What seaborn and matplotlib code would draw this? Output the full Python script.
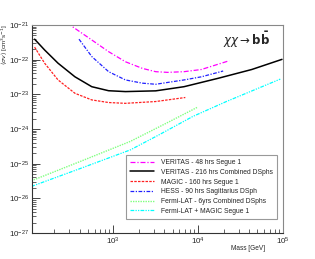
import numpy as np
import pandas as pd
import matplotlib
matplotlib.use("Agg")
import matplotlib.pyplot as plt
import seaborn as sns

# limits, mass in GeV, <sigma v> in cm^3 s^-1
mass_veritas48 = [290, 322, 557, 880, 1390, 2200, 3160, 4360, 6810, 10900, 23200]
sv_veritas48 = [1.2e-21, 9.3e-22, 3.7e-22, 1.7e-22, 8.7e-23, 5.6e-23, 4.5e-23, 4.3e-23, 4.5e-23, 5.2e-23, 9.3e-23]

mass_veritas216 = [118, 155, 223, 353, 557, 880, 1390, 3160, 6810, 17200, 42800, 97300]
sv_veritas216 = [3.9e-22, 1.9e-22, 7.9e-23, 3.2e-23, 1.66e-23, 1.27e-23, 1.2e-23, 1.26e-23, 1.66e-23, 2.9e-23, 5.2e-23, 1.02e-22]

mass_magic = [118, 155, 223, 353, 557, 880, 1390, 3160, 4360, 7060]
sv_magic = [2.3e-22, 7.9e-23, 2.6e-23, 1.07e-23, 6.9e-24, 5.8e-24, 5.5e-24, 6.2e-24, 6.9e-24, 8.1e-24]

mass_hess = [394, 557, 880, 1390, 2200, 3160, 6810, 10900, 19700]
sv_hess = [3.9e-22, 1.23e-22, 4.5e-23, 2.6e-23, 2.1e-23, 1.95e-23, 2.6e-23, 3.2e-23, 4.7e-23]

mass_fermi = [108, 405, 1590, 3940, 9910]
sv_fermi = [3.2e-26, 1.15e-25, 4.4e-25, 1.35e-24, 4.3e-24]

mass_combined = [108, 405, 1590, 3460, 8650, 21500, 92900]
sv_combined = [2.2e-26, 7.2e-26, 2.5e-25, 6.8e-25, 2.3e-24, 6.2e-24, 2.75e-23]

labels = ["VERITAS - 48 hrs Segue 1",
          "VERITAS - 216 hrs Combined DSphs",
          "MAGIC - 160 hrs Segue 1",
          "HESS - 90 hrs Sagittarius DSph",
          "Fermi-LAT - 6yrs Combined DSphs",
          "Fermi-LAT + MAGIC Segue 1"]

y_major = [1e-27, 1e-26, 1e-25, 1e-24, 1e-23, 1e-22, 1e-21]
x_major = [1e3, 1e4, 1e5]

sns.set_style("ticks")
plt.rcParams['font.family'] = ['Liberation Sans', 'DejaVu Sans']

fig = plt.figure(figsize=(3.15, 2.59), dpi=100)
ax = fig.add_axes([0.1016, 0.1004, 0.7968, 0.8031])

series = [
    (mass_veritas48, sv_veritas48, "#ff00ff", (0, (4, 1.5, 1, 1.5)), 0.9),
    (mass_veritas216, sv_veritas216, "black", "-", 1.1),
    (mass_magic, sv_magic, "#ff2020", (0, (2, 1)), 0.9),
    (mass_hess, sv_hess, "#2020ff", (0, (3, 1.2, 1, 1.2)), 0.9),
    (mass_fermi, sv_fermi, "#80ff80", (0, (1, 0.8)), 1.0),
    (mass_combined, sv_combined, "#00ffff", (0, (3, 1, 1, 1, 1, 1)), 0.9),
]

for (m, sv, col, ls, lw), lab in zip(series, labels):
    df = pd.DataFrame({"mass": m, "sv": sv})
    sns.lineplot(data=df, x="mass", y="sv", ax=ax, color=col, linestyle=ls,
                 linewidth=lw, label=lab, sort=False, estimator=None)

ax.set_xscale("log")
ax.set_yscale("log")
ax.set_yticks(y_major)
ax.set_xticks(x_major)
ax.set_xlim(110, 1e5)
ax.set_ylim(1e-27, 1e-21)

ax.tick_params(axis="both", which="both", direction="in", top=False, right=False,
               labelsize=5.8, pad=2)
ax.tick_params(which="major", length=6, width=0.6)
ax.tick_params(which="minor", length=3, width=0.5)
ax.yaxis.set_minor_locator(matplotlib.ticker.LogLocator(base=10, subs=np.arange(2, 10), numticks=20))
ax.xaxis.set_minor_locator(matplotlib.ticker.LogLocator(base=10, subs=np.arange(2, 10), numticks=20))
ax.yaxis.set_minor_formatter(matplotlib.ticker.NullFormatter())
ax.xaxis.set_minor_formatter(matplotlib.ticker.NullFormatter())

for s in ["top", "right"]:
    ax.spines[s].set_color("#888888")
    ax.spines[s].set_linewidth(0.8)
for s in ["left", "bottom"]:
    ax.spines[s].set_color("#333333")
    ax.spines[s].set_linewidth(0.8)

ax.set_xlabel("Mass [GeV]", fontsize=4.7, ha="right")
ax.xaxis.set_label_coords(0.928, -0.06)
ax.set_ylabel("")
fig.text(5 / 315, 1 - 25 / 259, r"$\langle\sigma v\rangle$ [cm$^{3}$s$^{-1}$]",
         rotation=90, ha="center", va="top", fontsize=4.5)

ax.text(0.95, 0.93, r"$\chi\chi \rightarrow \mathbf{b\bar{b}}$", transform=ax.transAxes,
        ha="right", va="center", fontsize=8.5)

leg = ax.legend(loc="upper left", bbox_to_anchor=(0.3745, 0.375), fontsize=4.9,
                frameon=True, fancybox=False, edgecolor="#808080", handlelength=3.5,
                handletextpad=1.0, labelspacing=0.4, borderpad=0.6, borderaxespad=0)
leg.get_frame().set_linewidth(0.8)

fig.savefig("out.png", dpi=100)
